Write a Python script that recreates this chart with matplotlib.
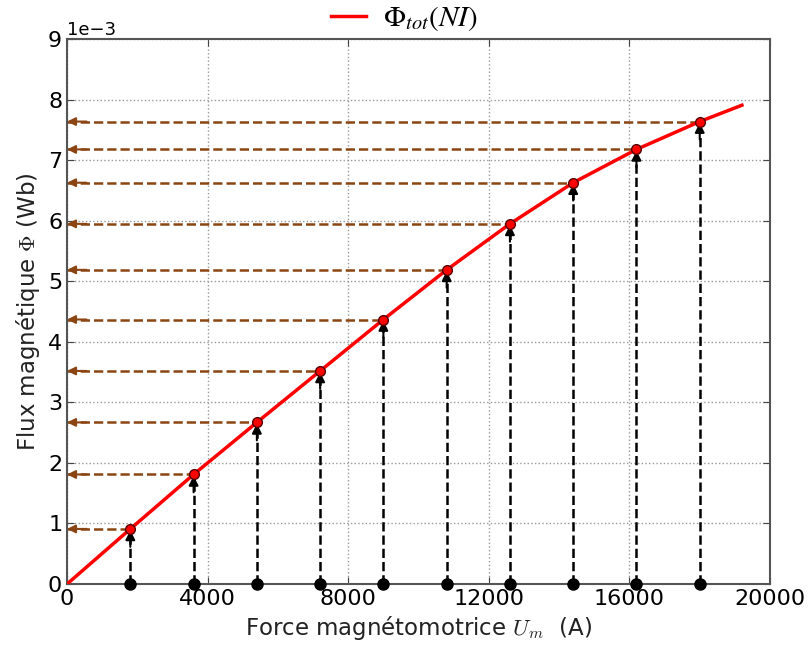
import matplotlib
matplotlib.use('Agg')
import matplotlib.pyplot as plt
from matplotlib.font_manager import FontProperties

# courbe Phi(NI)
ni_curve = [0, 1800, 3600, 5400, 7200, 9000, 10800, 12600, 14400, 16200, 18000, 19200]
phi_curve = [0, 0.91e-3, 1.81e-3, 2.67e-3, 3.52e-3, 4.37e-3, 5.19e-3, 5.95e-3, 6.63e-3, 7.18e-3, 7.64e-3, 7.91e-3]

# points de lecture
ni_pts = [1800, 3600, 5400, 7200, 9000, 10800, 12600, 14400, 16200, 18000]
phi_pts = [0.91e-3, 1.81e-3, 2.67e-3, 3.52e-3, 4.37e-3, 5.19e-3, 5.95e-3, 6.63e-3, 7.18e-3, 7.64e-3]

xticks = [0, 4000, 8000, 12000, 16000, 20000]
yticks = [0, 1e-3, 2e-3, 3e-3, 4e-3, 5e-3, 6e-3, 7e-3, 8e-3, 9e-3]

fig = plt.figure(figsize=(8.08, 6.54), dpi=100)
ax = fig.add_axes([0.083, 0.107, 0.870, 0.833])

brown = '#8B4513'

for x, y in zip(ni_pts, phi_pts):
    # verticale pointillee noire
    ax.plot([x, x], [0, y], ls='--', c='k', lw=1.8, zorder=2)
    ax.annotate('', xy=(x, y - 0.02e-3), xytext=(0, -12), textcoords='offset points',
                arrowprops=dict(arrowstyle='-|>', color='k', lw=1.5, mutation_scale=14,
                                shrinkA=0, shrinkB=0), zorder=3)
    # horizontale pointillee marron
    ax.plot([0, x], [y, y], ls='--', c=brown, lw=1.8, zorder=2)
    ax.annotate('', xy=(0, y), xytext=(14, 0), textcoords='offset points',
                arrowprops=dict(arrowstyle='-|>', color=brown, lw=1.5, mutation_scale=12,
                                shrinkA=0, shrinkB=0), zorder=3)

ax.plot(ni_pts, [0] * len(ni_pts), 'o', c='k', ms=8, clip_on=False, zorder=5)
ax.plot(ni_curve, phi_curve, c='r', lw=2.5, label=r'$\Phi_{tot}(NI)$', zorder=4)
ax.plot(ni_pts, phi_pts, 'o', mfc='r', mec='#550000', ms=7, zorder=4)

ax.set_xlim(0, 20000)
ax.set_ylim(0, 9e-3)
ax.set_xticks(xticks)
ax.set_yticks(yticks)
ax.ticklabel_format(axis='y', style='sci', scilimits=(0, 0))
ax.yaxis.get_offset_text().set_fontsize(13)
ax.tick_params(direction='in', labelsize=16, top=True, right=True, length=5, color='#444444')
for s in ax.spines.values():
    s.set_color('#555555')
    s.set_linewidth(1.5)
ax.grid(True, ls=':', color='#999999', lw=1)

lab_font = FontProperties(size=16.5, math_fontfamily='cm')
ax.set_xlabel(r'Force magnétomotrice $U_m$  (A)', fontproperties=lab_font, color='#222222')
ax.set_ylabel(r'Flux magnétique $\Phi$ (Wb)', fontproperties=lab_font, color='#222222')

leg = ax.legend(loc='lower center', bbox_to_anchor=(0.48, 0.99), frameon=False,
                prop=FontProperties(size=21, math_fontfamily='stix'), handlelength=1.2,
                handletextpad=0.6, borderaxespad=0)

fig.savefig('out.png', dpi=100)
